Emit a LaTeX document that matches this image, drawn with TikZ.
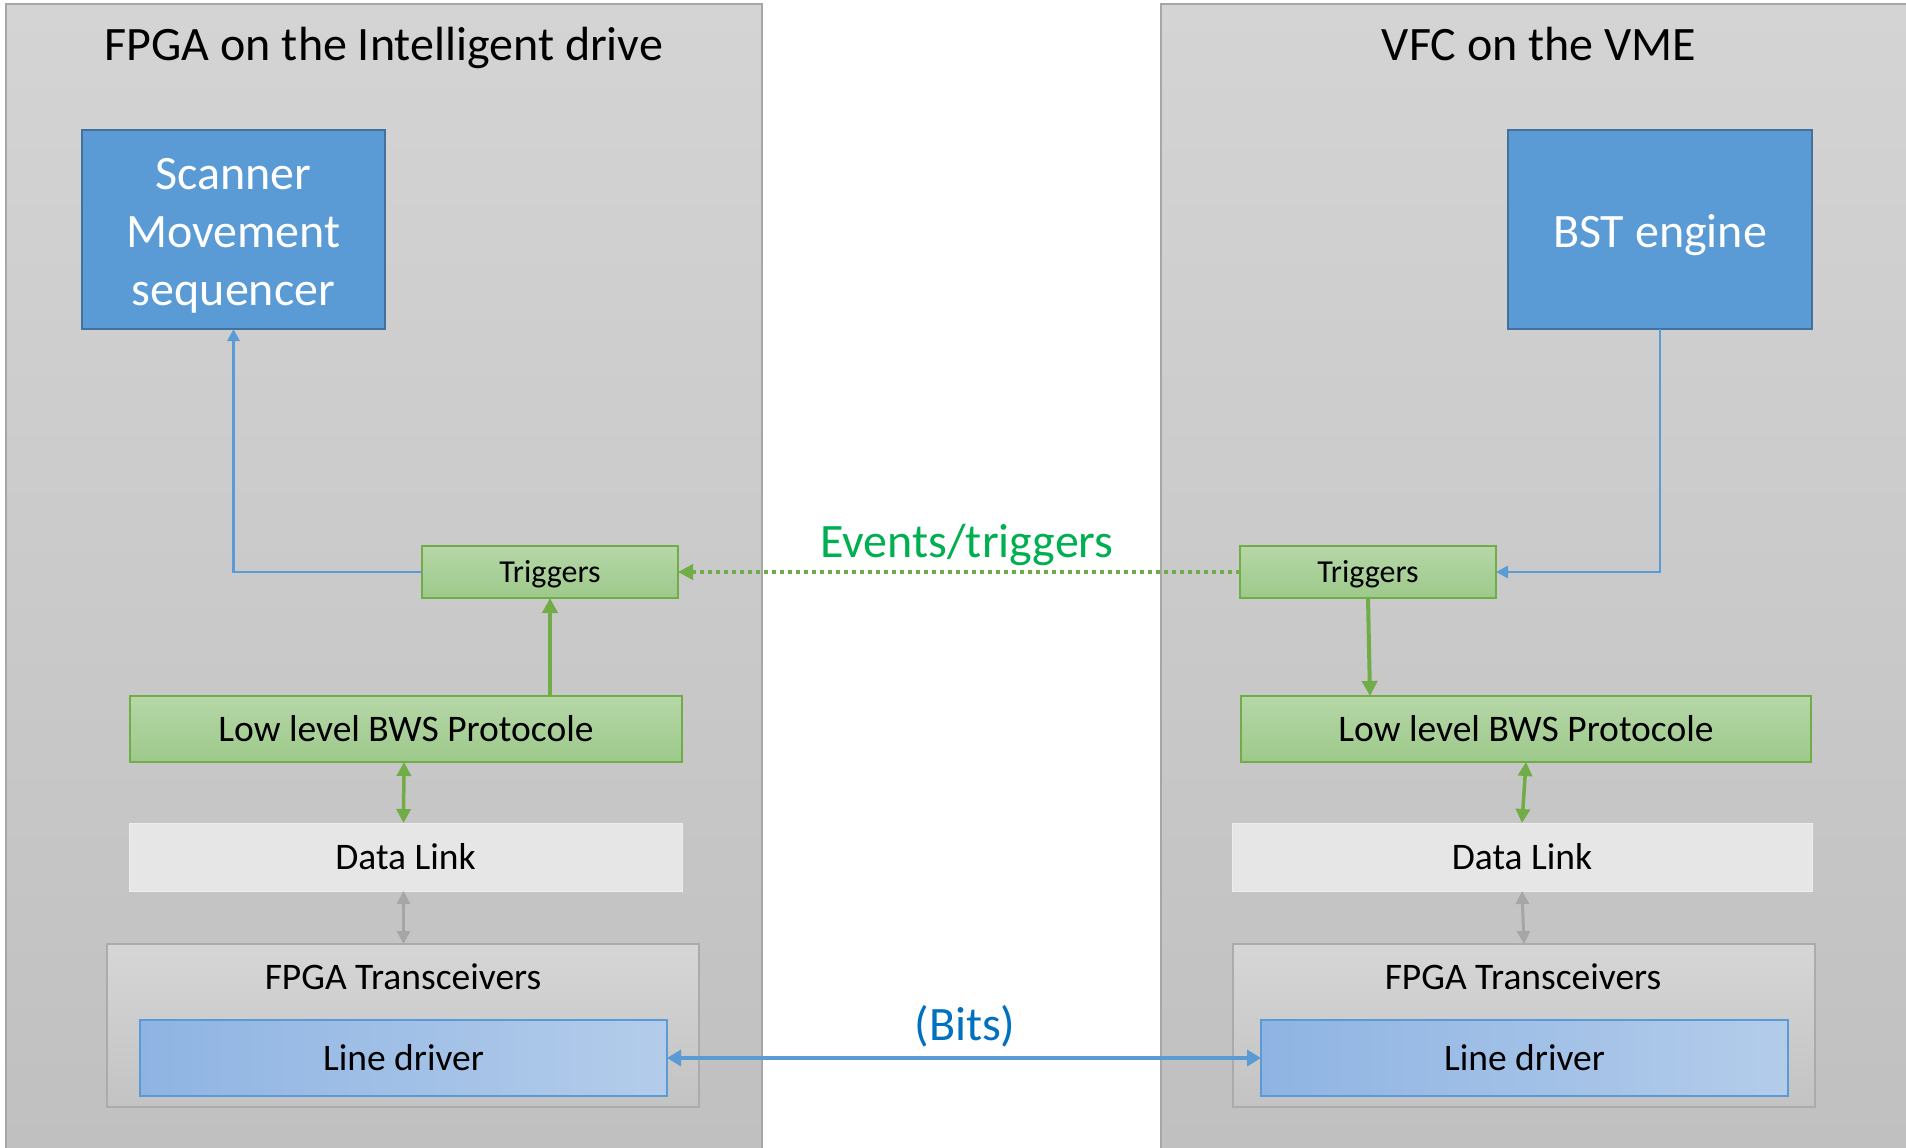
\documentclass[tikz,border=0pt]{standalone}
\usepackage{fontspec}
\setmainfont{Carlito}
\usetikzlibrary{arrows.meta,calc}

\definecolor{panelline}{HTML}{A6A6A6}
\definecolor{paneltop}{HTML}{D4D4D4}
\definecolor{panelbot}{HTML}{C0C0C0}
\definecolor{bluefill}{HTML}{5B9BD5}
\definecolor{blueline}{HTML}{41719C}
\definecolor{greentop}{HTML}{B6D7A8}
\definecolor{greenbot}{HTML}{9DC98A}
\definecolor{greenline}{HTML}{70AD47}
\definecolor{linkfill}{HTML}{E7E6E6}
\definecolor{linkline}{HTML}{EDEDED}
\definecolor{xcvrtop}{HTML}{D6D6D6}
\definecolor{xcvrbot}{HTML}{C3C3C3}
\definecolor{xcvrline}{HTML}{ABABAB}
\definecolor{drvleft}{HTML}{8FB4E3}
\definecolor{drvright}{HTML}{B3CCEA}
\definecolor{evtext}{HTML}{00B050}
\definecolor{bitstext}{HTML}{0070C0}
\definecolor{grayarrow}{HTML}{A6A6A6}

\newcommand\bigfnt{\fontsize{48}{58}\selectfont}
\newcommand\midfnt{\fontsize{37.5}{44}\selectfont}
\newcommand\smallfnt{\fontsize{32}{38}\selectfont}

\tikzset{
  box/.style={rectangle, inner sep=0pt, outer sep=0pt},
  panel/.style={draw=panelline, line width=1.5pt, top color=paneltop, bottom color=panelbot},
  bluebox/.style={box, draw=blueline, line width=2pt, fill=bluefill},
  greenbox/.style={box, draw=greenline, line width=1.5pt, top color=greentop, bottom color=greenbot},
  linkbox/.style={box, draw=linkline, line width=1pt, fill=linkfill},
  xcvrbox/.style={box, draw=xcvrline, line width=2pt, top color=xcvrtop, bottom color=xcvrbot},
  drvbox/.style={box, draw=bluefill, line width=1.5pt, left color=drvleft, right color=drvright},
  bigtext/.style={font=\bigfnt, text height=36pt, text depth=5pt, inner sep=0pt},
  midtext/.style={font=\midfnt, text height=28pt, text depth=4pt},
  smalltext/.style={font=\smallfnt, text height=25pt, text depth=4pt},
  bluelink/.style={draw=bluefill, line width=2.8pt, -{Triangle[length=12pt,width=12pt]}},
  greenlink/.style={draw=greenline, line width=4pt, -{Triangle[length=15pt,width=15pt]}},
  greenboth/.style={draw=greenline, line width=3.5pt, {Triangle[length=14pt,width=14pt]}-{Triangle[length=14pt,width=14pt]}},
  grayboth/.style={draw=grayarrow, line width=3pt, {Triangle[length=13pt,width=13pt]}-{Triangle[length=13pt,width=13pt]}},
  bitslink/.style={draw=bluefill, line width=4pt, {Triangle[length=14pt,width=16pt]}-{Triangle[length=14pt,width=16pt]}},
  eventlink/.style={draw=greenline, line width=4.5pt, dash pattern=on 4pt off 4pt, -{Triangle[length=15pt,width=15pt]}},
}

\begin{document}
\begin{tikzpicture}[x=1pt, y=-1pt]
  \useasboundingbox[fill=white] (0,0) rectangle (1906,1148);

  % the two boards
  \path[panel] (6,4) rectangle (762,1152);
  \path[panel] (1161,4) rectangle (1912,1152);

  \node[bigtext] (titleL) at (384,45.5) {FPGA on the Intelligent drive};
  \node[bigtext] (titleR) at (1539,45.5) {VFC on the VME};

  % intelligent drive side
  \node[bluebox, minimum width=303pt, minimum height=199pt] (scanner) at (233.5,229.5) {};
  \node[font=\bigfnt, text=white, align=center, inner sep=0pt] (scannerlabel) at (233.5,236) {Scanner\\Movement\\sequencer};
  \node[greenbox, smalltext, minimum width=256pt, minimum height=52pt] (trigL) at (550,572) {Triggers};
  \node[greenbox, midtext, minimum width=552pt, minimum height=66pt] (lowL) at (406,729) {Low level BWS Protocole};
  \node[linkbox, midtext, minimum width=553pt, minimum height=68pt] (linkL) at (405.5,857) {Data Link};
  \node[xcvrbox, minimum width=592pt, minimum height=163pt] (xcvrL) at (403,1025.5) {};
  \node[midtext, inner sep=0pt] (xcvrLlabel) at (403,977) {FPGA Transceivers};
  \node[drvbox, midtext, minimum width=527pt, minimum height=76pt] (drvL) at (403.5,1058) {Line driver};

  % VME side
  \node[bluebox, minimum width=304pt, minimum height=199pt] (bst) at (1660,229.5) {};
  \node[bigtext, text=white] (bstlabel) at (1660,232) {BST engine};
  \node[greenbox, smalltext, minimum width=256pt, minimum height=52pt] (trigR) at (1368,572) {Triggers};
  \node[greenbox, midtext, minimum width=570pt, minimum height=66pt] (lowR) at (1526,729) {Low level BWS Protocole};
  \node[linkbox, midtext, minimum width=580pt, minimum height=68pt] (linkR) at (1522,857) {Data Link};
  \node[xcvrbox, minimum width=582pt, minimum height=163pt] (xcvrR) at (1524,1025.5) {};
  \node[midtext, inner sep=0pt] (xcvrRlabel) at (1523,977) {FPGA Transceivers};
  \node[drvbox, midtext, minimum width=527pt, minimum height=76pt] (drvR) at (1524.5,1058) {Line driver};

  % connections inside each board
  \draw[bluelink] (trigL.west) -| (scanner.south);
  \draw[bluelink] (bst.south) |- (trigR.east);
  \draw[greenlink] (lowL.north -| trigL.south) -- (trigL.south);
  \draw[greenlink] (trigR.south) -- ([xshift=2pt]trigR.south |- lowR.north);
  \draw[greenboth] ([xshift=-2pt]lowL.south) -- ([xshift=-2pt]linkL.north);
  \draw[grayboth] ([xshift=-2pt]linkL.south) -- ([xshift=-2pt]linkL.south |- xcvrL.north);
  \draw[greenboth] (lowR.south) -- (linkR.north);
  \draw[grayboth] (linkR.south) -- ([xshift=2pt]linkR.south |- xcvrR.north);

  % links between the boards
  \draw[eventlink] (trigR.west) -- (trigL.east);
  \node[bigtext, text=evtext] (events) at (967,542) {Events/triggers};
  \draw[bitslink] (drvL.east) -- (drvR.west);
  \node[bigtext, text=bitstext] (bits) at (965,1025) {(Bits)};
\end{tikzpicture}
\end{document}
